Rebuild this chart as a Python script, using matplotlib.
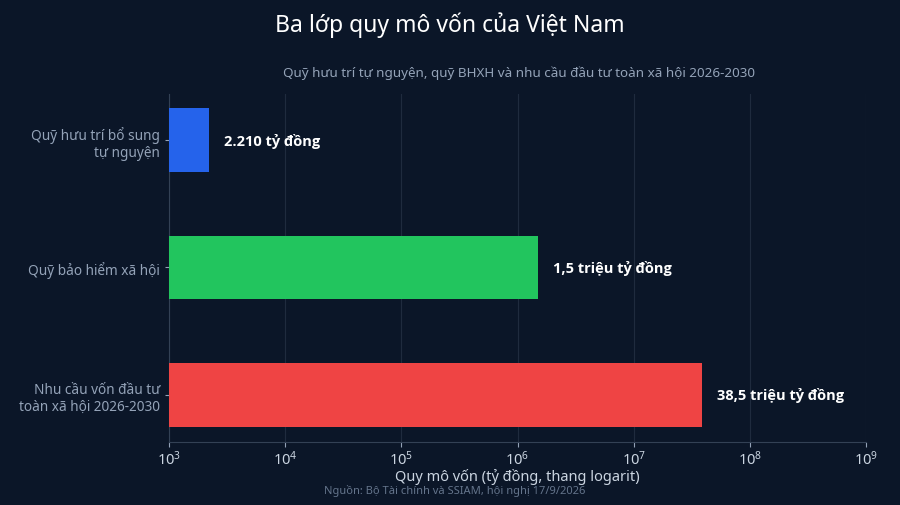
import numpy as np
import matplotlib.pyplot as plt
from matplotlib.ticker import NullFormatter

# Dữ liệu (tỷ đồng)
categories = ["Quỹ hưu trí bổ sung\ntự nguyện", "Quỹ bảo hiểm xã hội",
              "Nhu cầu vốn đầu tư\ntoàn xã hội 2026-2030"]
values = [2210, 1.5e6, 38.5e6]
value_labels = ["2.210 tỷ đồng", "1,5 triệu tỷ đồng", "38,5 triệu tỷ đồng"]
colors = ["#2563eb", "#22c55e", "#ef4444"]

bg = "#0b1628"
plt.rcParams['font.family'] = ['Noto Sans', 'DejaVu Sans']

fig = plt.figure(figsize=(9, 5.06), dpi=100, facecolor=bg)
ax = fig.add_axes([0.188, 0.1245, 0.774, 0.6875], facecolor=bg)

y = np.arange(len(categories))
ax.barh(y, values, height=0.5, left=0, color=colors, zorder=3)
ax.set_xscale('log')
ax.set_xlim(1e3, 1e9)
ax.set_ylim(2.37, -0.36)
ax.set_yticks(y)
ax.set_yticklabels(categories, color="#cbd5e1", fontsize=9.8)
ax.xaxis.set_minor_formatter(NullFormatter())

for yi, v, lab in zip(y, values, value_labels):
    ax.text(v * 1.35, yi, lab, va='center', ha='left', color="white",
            fontsize=10.5, fontweight='bold', family=['Open Sans', 'DejaVu Sans'], zorder=4)

ax.grid(axis='x', which='major', color="#1f2b3e", linewidth=0.8, zorder=0)
ax.tick_params(axis='x', which='minor', bottom=False)
ax.tick_params(axis='x', colors="#94a3b8", labelsize=10.5, labelcolor="#cbd5e1", pad=2)
ax.tick_params(axis='y', colors="#94a3b8", length=3)
for s in ['top', 'right']:
    ax.spines[s].set_visible(False)
for s in ['left', 'bottom']:
    ax.spines[s].set_color("#334155")

ax.set_xlabel("Quy mô vốn (tỷ đồng, thang logarit)", color="#cbd5e1", fontsize=10.5, labelpad=0)

fig.text(0.5, 0.95, "Ba lớp quy mô vốn của Việt Nam", ha='center', va='center',
         color="white", fontsize=16.5)
fig.text(0.577, 0.856, "Quỹ hưu trí tự nguyện, quỹ BHXH và nhu cầu đầu tư toàn xã hội 2026-2030",
         ha='center', va='center', color="#94a3b8", fontsize=9.7)
fig.text(0.505, 0.029, "Nguồn: Bộ Tài chính và SSIAM, hội nghị 17/9/2026", ha='center',
         va='center', color="#64748b", fontsize=8)

fig.savefig("out.png", dpi=100, facecolor=bg)
